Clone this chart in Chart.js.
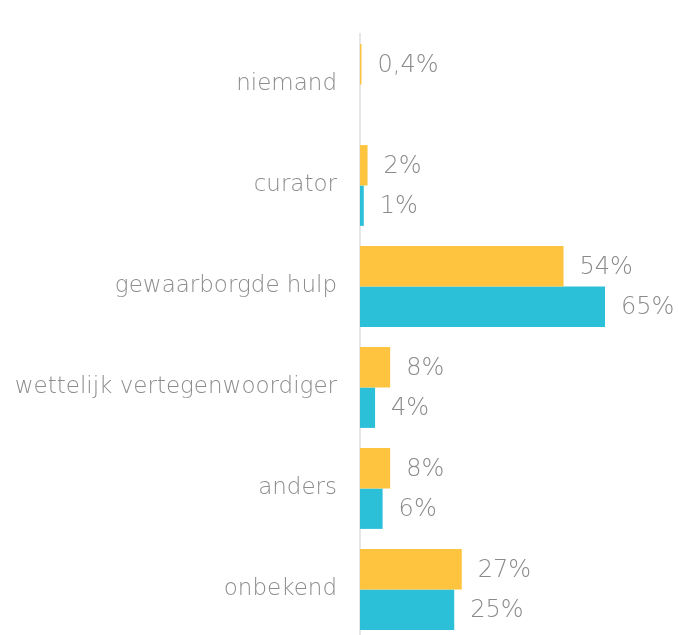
<!DOCTYPE html>
<html>
<head>
<meta charset="utf-8">
<script src="https://cdn.jsdelivr.net/npm/chart.js@4/dist/chart.umd.min.js"></script>
<style>
  html, body { margin: 0; padding: 0; background: #fff; overflow: hidden; }
  canvas { display: block; }
</style>
</head>
<body>
<canvas id="chart" width="679" height="640"></canvas>
<script>
const categories = [
  "niemand",
  "curator",
  "gewaarborgde hulp",
  "wettelijk vertegenwoordiger",
  "anders",
  "onbekend",
];
const yellowValues = [0.4, 2, 54, 8, 8, 27];
const blueValues = [null, 1, 65, 4, 6, 25];

const labelFont = "'DejaVu Sans', sans-serif";

// draws the "54%" style value labels next to each bar
const valueLabels = {
  id: "valueLabels",
  afterDatasetsDraw(chart) {
    const ctx = chart.ctx;
    ctx.save();
    ctx.font = "200 24px " + labelFont;
    ctx.fillStyle = "#8a8a8a";
    ctx.textAlign = "left";
    ctx.textBaseline = "middle";
    chart.data.datasets.forEach((ds, i) => {
      const meta = chart.getDatasetMeta(i);
      meta.data.forEach((bar, j) => {
        const v = ds.data[j];
        if (v === null) return;
        const text = String(v).replace(".", ",") + "%";
        ctx.fillText(text, bar.x + 16, bar.y + 1);
      });
    });
    ctx.restore();
  },
};

const ctx = document.getElementById("chart").getContext("2d");
new Chart(ctx, {
  type: "bar",
  data: {
    labels: categories,
    datasets: [
      {
        data: yellowValues,
        backgroundColor: "#ffc43f",
        categoryPercentage: 0.8,
        barPercentage: 1,
      },
      {
        data: blueValues,
        backgroundColor: "#2bc0d8",
        categoryPercentage: 0.8,
        barPercentage: 1,
      },
    ],
  },
  options: {
    indexAxis: "y",
    responsive: false,
    animation: false,
    layout: {
      padding: { top: 34, right: 74, bottom: 0, left: 0 },
    },
    scales: {
      x: {
        display: false,
        min: 0,
        max: 65,
      },
      y: {
        afterFit: (scale) => {
          scale.width = 360;
          // tick padding would otherwise shrink the plot vertically
          scale.paddingTop = 0;
          scale.paddingBottom = 0;
        },
        grid: { display: false, drawTicks: false },
        border: { display: true, color: "#e6e6e6", width: 2 },
        ticks: {
          color: "#8c8c8c",
          padding: 23,
          font: { family: labelFont, size: 23, weight: "200" },
        },
      },
    },
    plugins: {
      legend: { display: false },
      tooltip: { enabled: false },
    },
  },
  plugins: [valueLabels],
});
</script>
</body>
</html>
